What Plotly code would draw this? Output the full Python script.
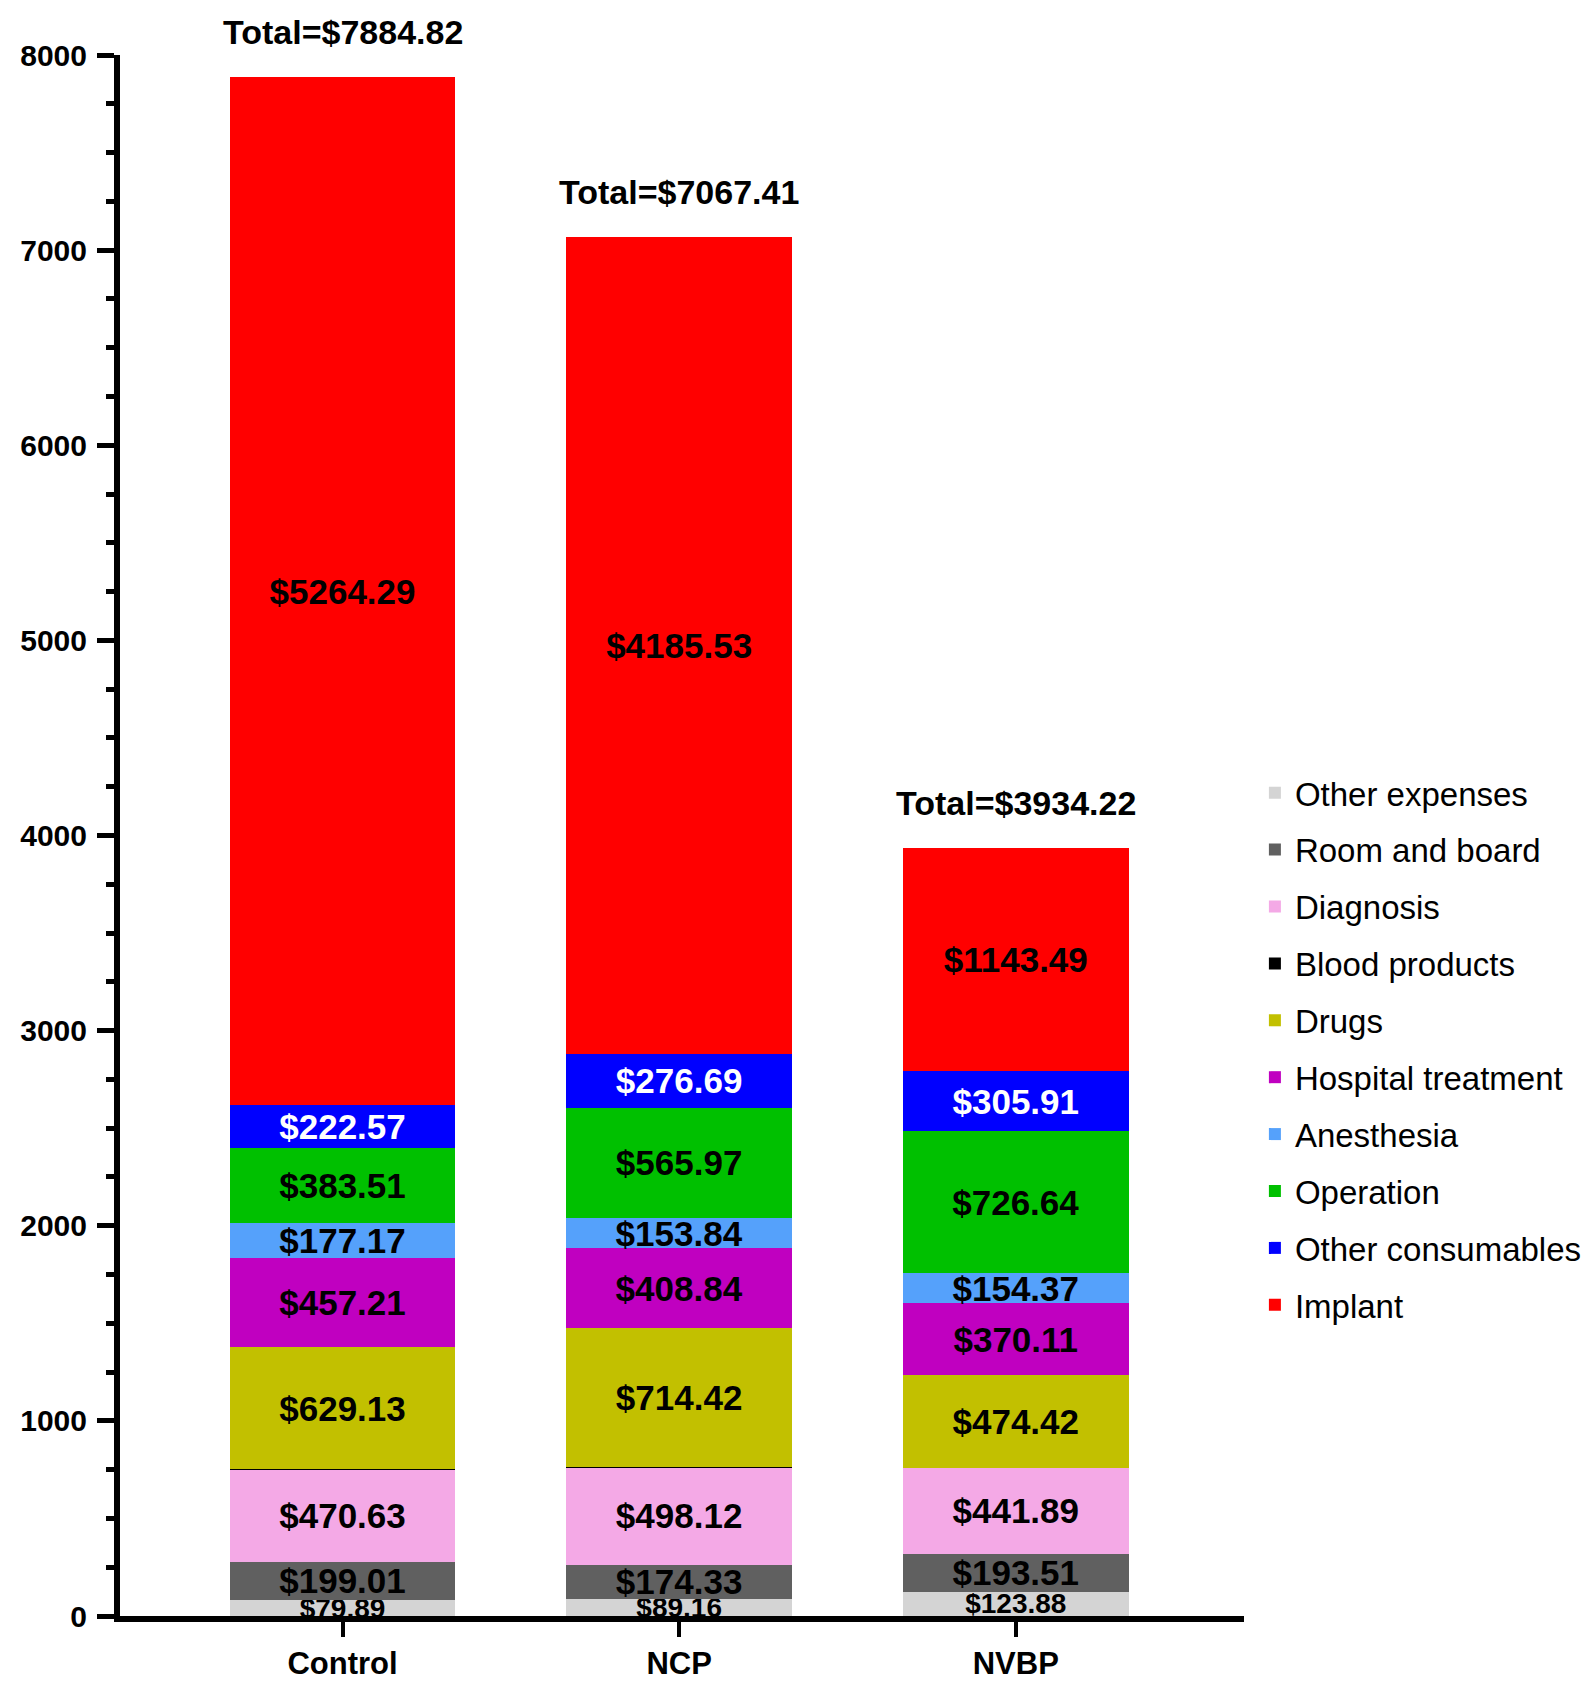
import plotly.graph_objects as go

# groups on the x axis
groups = ["Control", "NCP", "NVBP"]

# cost components, bottom of the stack first
other_expenses = [79.89, 89.16, 123.88]
room_and_board = [199.01, 174.33, 193.51]
diagnosis = [470.63, 498.12, 441.89]
blood_products = [1.41, 0.51, 0.00]
drugs = [629.13, 714.42, 474.42]
hospital_treatment = [457.21, 408.84, 370.11]
anesthesia = [177.17, 153.84, 154.37]
operation = [383.51, 565.97, 726.64]
other_consumables = [222.57, 276.69, 305.91]
implant = [5264.29, 4185.53, 1143.49]

y_ticks = [0, 1000, 2000, 3000, 4000, 5000, 6000, 7000, 8000]

FONT = "Liberation Sans, Arial, sans-serif"

# (name, values, colour, label colour, label size, show label)
components = [
    ("Other expenses", other_expenses, "#d4d4d4", "black", 28, True),
    ("Room and board", room_and_board, "#606060", "black", 35, True),
    ("Diagnosis", diagnosis, "#f4a9e6", "black", 35, True),
    ("Blood products", blood_products, "#000000", "black", 35, False),
    ("Drugs", drugs, "#c2c000", "black", 35, True),
    ("Hospital treatment", hospital_treatment, "#c000c0", "black", 35, True),
    ("Anesthesia", anesthesia, "#55a1fb", "black", 35, True),
    ("Operation", operation, "#00c000", "black", 35, True),
    ("Other consumables", other_consumables, "#0000ff", "white", 35, True),
    ("Implant", implant, "#ff0000", "black", 35, True),
]

fig = go.Figure()
for name, values, color, txt_color, txt_size, show_text in components:
    labels = [f"${v:.2f}" for v in values] if show_text else ["" for _ in values]
    fig.add_trace(go.Bar(
        x=groups,
        y=values,
        name=name,
        legendgroup=name,
        marker=dict(color=color, line=dict(width=0)),
        width=0.67,
        text=labels,
        textposition="inside",
        insidetextanchor="middle",
        textangle=0,
        constraintext="none",
        textfont=dict(family=FONT, size=txt_size, color=txt_color, weight="bold"),
        hoverinfo="skip",
    ))

# totals above each bar
totals = [sum(c[1][i] for c in components) for i in range(len(groups))]
for g, t in zip(groups, totals):
    fig.add_annotation(
        x=g, y=t, text=f"Total=${t:.2f}",
        showarrow=False, yanchor="bottom", yshift=24,
        font=dict(family=FONT, size=34, color="black", weight="bold"),
    )

fig.update_layout(
    width=1595,
    height=1685,
    barmode="stack",
    plot_bgcolor="white",
    paper_bgcolor="white",
    margin=dict(l=104, r=359, t=47, b=64),
    font=dict(family=FONT, color="black"),
    showlegend=True,
    legend=dict(
        traceorder="grouped",
        tracegroupgap=11,
        x=1.0097, xanchor="left",
        y=0.3634, yanchor="middle",
        font=dict(family=FONT, size=33, color="black"),
        bgcolor="rgba(0,0,0,0)",
    ),
    xaxis=dict(
        range=[-0.661, 2.678],
        showline=True, linecolor="black", linewidth=6,
        ticks="outside", ticklen=15, tickwidth=4, tickcolor="black",
        tickfont=dict(family=FONT, size=31, color="black", weight="bold"),
        showgrid=False, zeroline=False,
    ),
    yaxis=dict(
        range=[0, 8000],
        tickvals=y_ticks,
        showline=True, linecolor="black", linewidth=6,
        ticks="outside", ticklen=17, tickwidth=5, tickcolor="black",
        ticklabelstandoff=4,
        tickfont=dict(family=FONT, size=30, color="black", weight="bold"),
        minor=dict(dtick=250, ticks="outside", ticklen=8, tickwidth=5, tickcolor="black", showgrid=False),
        showgrid=False, zeroline=False,
    ),
)

fig.write_html("out.html")
